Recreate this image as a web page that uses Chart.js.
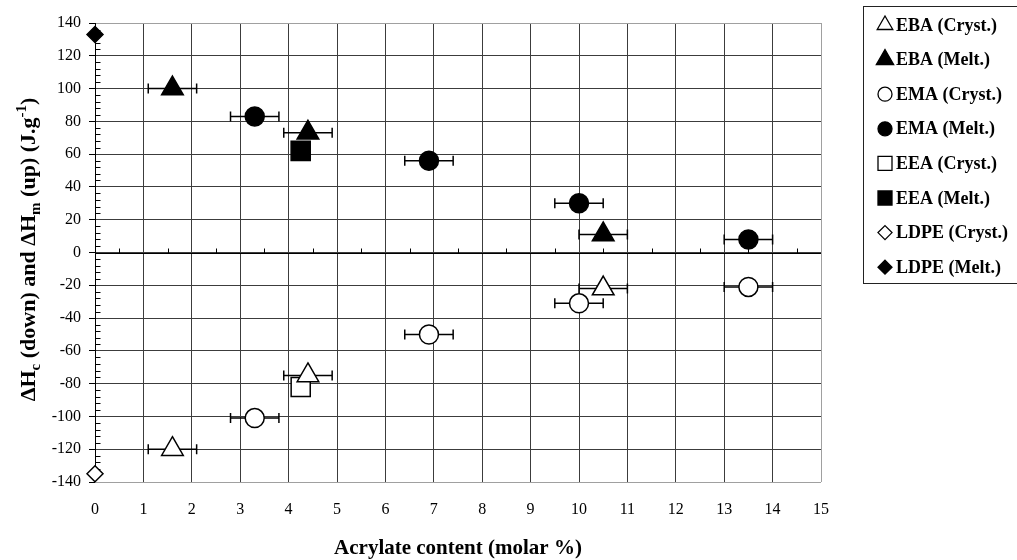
<!DOCTYPE html>
<html>
<head>
<meta charset="utf-8">
<script src="https://cdn.jsdelivr.net/npm/chart.js@4.4.1/dist/chart.umd.min.js"></script>
<style>
  html, body { margin: 0; padding: 0; background: #ffffff; }
  canvas { display: block; }
</style>
</head>
<body>
<canvas id="chart" width="1017" height="560"></canvas>
<script>
const SERIF = '"Liberation Serif", "Times New Roman", Times, serif';

// Acrylate content (molar %), its uncertainty, and enthalpies (J/g)
const ebaContent = [1.6, 4.4, 10.5];
const ebaContentErr = [0.5, 0.5, 0.5];
const ebaCryst = [-120, -75, -22];
const ebaMelt = [100, 73, 11];

const emaContent = [3.3, 6.9, 10.0, 13.5];
const emaContentErr = [0.5, 0.5, 0.5, 0.5];
const emaCryst = [-101, -50, -31, -21];
const emaMelt = [83, 56, 30, 8];

const eeaContent = [4.25];
const eeaCryst = [-82];
const eeaMelt = [62];

const ldpeContent = [0];
const ldpeCryst = [-135];
const ldpeMelt = [133];

const seriesLabels = ['EBA (Cryst.)', 'EBA (Melt.)', 'EMA (Cryst.)', 'EMA (Melt.)',
                      'EEA (Cryst.)', 'EEA (Melt.)', 'LDPE (Cryst.)', 'LDPE (Melt.)'];

const xMin = 0, xMax = 15, xStep = 1;
const yMin = -140, yMax = 140, yStep = 20;

function pts(xs, ys) { return xs.map((x, i) => ({ x: x, y: ys[i] })); }

function series(label, xs, ys, errs, shape, radius, filled) {
  return {
    label: label,
    data: pts(xs, ys),
    xErr: errs,
    pointStyle: shape,
    pointRadius: radius,
    pointHoverRadius: radius,
    pointBackgroundColor: filled ? '#000000' : '#ffffff',
    pointBorderColor: '#000000',
    pointBorderWidth: 1.5,
    showLine: false,
    clip: false
  };
}

const datasets = [
  series(seriesLabels[0], ebaContent, ebaCryst, ebaContentErr, 'triangle', 12.5, false),
  series(seriesLabels[1], ebaContent, ebaMelt, ebaContentErr, 'triangle', 12.5, true),
  series(seriesLabels[2], emaContent, emaCryst, emaContentErr, 'circle', 9.5, false),
  series(seriesLabels[3], emaContent, emaMelt, emaContentErr, 'circle', 9.5, true),
  series(seriesLabels[4], eeaContent, eeaCryst, null, 'rect', 13.5, false),
  series(seriesLabels[5], eeaContent, eeaMelt, null, 'rect', 13.5, true),
  series(seriesLabels[6], ldpeContent, ldpeCryst, null, 'rectRot', 8, false),
  series(seriesLabels[7], ldpeContent, ldpeMelt, null, 'rectRot', 8, true)
];

// Axis lines through the origin with their minor ticks, plus horizontal error bars
const axesAndErrors = {
  id: 'axesAndErrors',
  beforeDatasetsDraw(chart) {
    const { ctx, scales: { x, y }, chartArea } = chart;
    ctx.save();
    ctx.strokeStyle = '#000000';
    ctx.lineWidth = 1;
    const x0 = Math.round(x.getPixelForValue(0)) + 0.5;
    const y0 = Math.round(y.getPixelForValue(0)) + 0.5;
    ctx.beginPath();
    ctx.moveTo(x0, chartArea.top);
    ctx.lineTo(x0, chartArea.bottom);
    ctx.moveTo(chartArea.left, y0);
    ctx.lineTo(chartArea.right, y0);
    // minor ticks on the vertical axis, every 4 units
    for (let v = yMin; v <= yMax; v += 4) {
      if (v % yStep === 0) continue;
      const py = Math.round(y.getPixelForValue(v)) + 0.5;
      ctx.moveTo(x0, py);
      ctx.lineTo(x0 + 5, py);
    }
    // minor ticks on the horizontal axis at half units
    for (let v = xMin + 0.5; v < xMax; v += 1) {
      const px = Math.round(x.getPixelForValue(v)) + 0.5;
      ctx.moveTo(px, y0);
      ctx.lineTo(px, y0 - 5);
    }
    ctx.stroke();

    ctx.lineWidth = 1.5;
    chart.data.datasets.forEach((ds) => {
      if (!ds.xErr) return;
      ds.data.forEach((p, i) => {
        const e = ds.xErr[i];
        const xl = x.getPixelForValue(p.x - e);
        const xr = x.getPixelForValue(p.x + e);
        const py = y.getPixelForValue(p.y);
        ctx.beginPath();
        ctx.moveTo(xl, py); ctx.lineTo(xr, py);
        ctx.moveTo(xl, py - 5); ctx.lineTo(xl, py + 5);
        ctx.moveTo(xr, py - 5); ctx.lineTo(xr, py + 5);
        ctx.stroke();
      });
    });
    ctx.restore();
  }
};

// Draws a string made of normal, subscript and superscript runs, centred on (cx, cy)
function drawRich(ctx, runs, cx, cy, size, angle) {
  const base = 'bold ' + size + 'px ' + SERIF;
  const small = 'bold ' + Math.round(size * 0.68) + 'px ' + SERIF;
  let total = 0;
  runs.forEach(r => { ctx.font = r.s ? small : base; r.w = ctx.measureText(r.t).width; total += r.w; });
  ctx.save();
  ctx.translate(cx, cy);
  ctx.rotate(angle);
  ctx.fillStyle = '#000000';
  ctx.textBaseline = 'alphabetic';
  ctx.textAlign = 'left';
  let pos = -total / 2;
  const baseline = size * 0.34;
  runs.forEach(r => {
    ctx.font = r.s ? small : base;
    let dy = 0;
    if (r.s === 'sub') dy = size * 0.22;
    if (r.s === 'sup') dy = -size * 0.42;
    ctx.fillText(r.t, pos, baseline + dy);
    pos += r.w;
  });
  ctx.restore();
}

const titles = {
  id: 'titles',
  afterDraw(chart) {
    const { ctx, chartArea } = chart;
    const cx = (chartArea.left + chartArea.right) / 2;
    drawRich(ctx, [{ t: 'Acrylate content (molar %)' }], cx, 547, 21, 0);
    drawRich(ctx, [
      { t: '\u0394H' }, { t: 'c', s: 'sub' }, { t: ' (down) and \u0394H' }, { t: 'm', s: 'sub' },
      { t: ' (up) (J.g' }, { t: '-1', s: 'sup' }, { t: ')' }
    ], 28, (chartArea.top + chartArea.bottom) / 2 - 3, 22, -Math.PI / 2);
  }
};

function legendMarker(ctx, shape, filled, x, y) {
  ctx.beginPath();
  if (shape === 'triangle') {
    const r = filled ? 10 : 9;
    const w = r * Math.sin(Math.PI / 3);
    ctx.moveTo(x, y - r); ctx.lineTo(x + w, y + r / 2); ctx.lineTo(x - w, y + r / 2); ctx.closePath();
  } else if (shape === 'circle') {
    ctx.arc(x, y, 7, 0, Math.PI * 2);
  } else if (shape === 'rect') {
    ctx.rect(x - 7, y - 7, 14, 14);
  } else {
    const r = 7;
    ctx.moveTo(x, y - r); ctx.lineTo(x + r, y); ctx.lineTo(x, y + r); ctx.lineTo(x - r, y); ctx.closePath();
  }
  ctx.fillStyle = filled ? '#000000' : '#ffffff';
  ctx.fill();
  ctx.lineWidth = 1.3;
  ctx.strokeStyle = '#000000';
  ctx.stroke();
}

const sideLegend = {
  id: 'sideLegend',
  afterDraw(chart) {
    const { ctx } = chart;
    ctx.save();
    ctx.strokeStyle = '#222222';
    ctx.lineWidth = 1;
    ctx.strokeRect(863.5, 6.5, 170, 277);
    ctx.font = 'bold 18px ' + SERIF;
    ctx.textBaseline = 'middle';
    ctx.textAlign = 'left';
    chart.data.datasets.forEach((ds, i) => {
      const yy = 25 + i * 34.6;
      legendMarker(ctx, ds.pointStyle, ds.pointBackgroundColor === '#000000', 885, yy);
      ctx.fillStyle = '#000000';
      ctx.fillText(ds.label, 896, yy + 1);
    });
    ctx.restore();
  }
};

const edgeColour = (v, lim) => (v === lim ? '#a0a0a0' : '#3c3c3c');

new Chart(document.getElementById('chart'), {
  type: 'scatter',
  data: { datasets: datasets },
  options: {
    responsive: false,
    animation: false,
    devicePixelRatio: 1,
    layout: { padding: { left: 0, top: 23, right: 196, bottom: 0 } },
    plugins: { legend: { display: false }, tooltip: { enabled: false }, title: { display: false } },
    scales: {
      x: {
        type: 'linear', min: xMin, max: xMax,
        border: { display: false },
        grid: {
          color: (c) => edgeColour(c.tick && c.tick.value, xMax),
          lineWidth: 1, drawTicks: false
        },
        ticks: { stepSize: xStep, color: '#000000', padding: 18, font: { family: SERIF, size: 16 } },
        afterFit(s) { s.height = 78; }
      },
      y: {
        type: 'linear', min: yMin, max: yMax,
        border: { display: false },
        grid: {
          color: (c) => (c.tick && (c.tick.value === yMax || c.tick.value === yMin) ? '#a0a0a0' : '#3c3c3c'),
          tickColor: '#000000', lineWidth: 1, drawTicks: true, tickLength: 6
        },
        ticks: { stepSize: yStep, color: '#000000', padding: 8, font: { family: SERIF, size: 16 } },
        afterFit(s) { s.width = 95; }
      }
    }
  },
  plugins: [axesAndErrors, titles, sideLegend]
});
</script>
</body>
</html>
